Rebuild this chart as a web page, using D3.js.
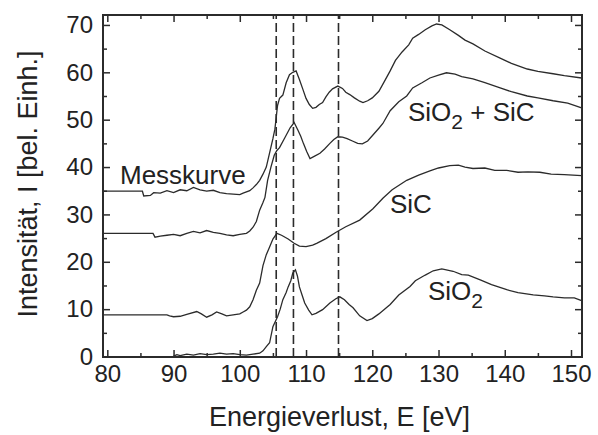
<!DOCTYPE html>
<html>
<head>
<meta charset="utf-8">
<script src="https://cdn.jsdelivr.net/npm/d3@7"></script>
<style>
  body { margin: 0; background: #fff; }
  text { font-family: "Liberation Sans", Arial, sans-serif; fill: #222; }
</style>
</head>
<body>
<div id="chart"></div>
<script>
// spectra: [energy eV, intensity]
const messkurve = [
  [79.4, 34.9], [85.3, 34.9], [85.5, 33.9], [86.5, 34.0], [87, 34.6], [88, 34.5], [89, 35.0], [90, 34.6],
  [91, 35.2], [92, 35.0], [93, 35.7], [94, 35.2], [95, 34.9], [96, 35.1], [97, 34.6], [98, 34.4],
  [99, 34.3], [100, 34.2], [100.5, 34.5], [101.5, 35.0], [102, 35.6], [102.5, 36.3], [103, 37.2],
  [103.5, 38.5], [104, 40.0], [104.5, 43.0], [105, 46.0], [105.3, 48.0], [105.7, 53.0], [106, 54.5],
  [106.5, 55.2], [107, 57.8], [107.5, 59.5], [108, 60.0], [108.5, 60.3], [109, 58.5], [109.5, 56.5],
  [110, 54.5], [110.5, 53.2], [111, 52.4], [111.5, 52.6], [112, 53.2], [112.5, 53.6], [113, 54.8],
  [113.5, 55.8], [114, 56.5], [114.8, 57.1], [115.5, 56.6], [116, 55.8], [116.6, 55.3], [117.3, 54.6],
  [118.1, 53.9], [118.6, 53.6], [119.3, 54.0], [120, 54.6], [121, 56.0], [122, 58.5], [122.7, 60.3],
  [123.5, 62.5], [124.5, 64.3], [125.5, 65.8], [126.1, 67.2], [127, 68.0], [128, 69.0], [129, 69.8],
  [129.7, 70.2], [130.5, 70.0], [131.7, 69.0], [133, 67.8], [134, 66.8], [135.2, 66.0], [137, 64.5],
  [139.3, 63.0], [141, 61.9], [143.4, 60.7], [145, 60.2], [147.3, 59.7], [149, 59.3], [151.6, 58.8]
];

const sio2sic = [
  [79.4, 26.0], [86.9, 26.0], [87.2, 25.2], [88, 25.4], [89, 25.6], [90, 25.8], [91, 25.5], [92, 26.0],
  [93, 26.4], [94, 26.1], [95, 26.6], [96, 26.2], [97, 26.0], [98, 25.7], [99, 25.5], [100, 25.8],
  [101, 26.0], [101.5, 26.5], [102, 27.3], [102.5, 28.5], [103, 30.9], [103.5, 32.5], [103.8, 33.6],
  [104.2, 37.2], [104.7, 40.0], [105.2, 42.5], [105.6, 43.5], [106, 44.1], [106.8, 46.2], [107.6, 48.3],
  [108.2, 49.4], [108.8, 47.7], [109.2, 46.5], [109.6, 45.0], [110.1, 43.3], [110.6, 41.8], [111.3, 42.3],
  [112.1, 42.9], [112.8, 43.8], [113.6, 45.0], [114.2, 45.8], [114.8, 46.4], [115.5, 46.3], [116.2, 46.0],
  [117, 45.5], [117.8, 45.0], [118.5, 44.9], [119.3, 45.5], [120, 46.6], [121, 48.2], [121.6, 49.2],
  [122.7, 51.9], [124, 53.8], [125.2, 55.0], [126.1, 56.7], [127.5, 57.8], [128.7, 58.8], [130, 59.4],
  [131.2, 59.9], [132.5, 59.6], [133.5, 59.1], [135.2, 58.6], [137, 57.8], [139.3, 56.7], [141, 55.9],
  [143.4, 55.0], [145, 54.6], [147.3, 54.0], [149.5, 53.5], [151.6, 52.5]
];

const sic = [
  [79.4, 8.8], [89, 8.8], [89.4, 8.6], [90, 8.4], [91, 8.5], [92, 8.9], [93.5, 9.5], [94.2, 9.0],
  [95, 8.3], [95.8, 8.8], [96.5, 9.4], [97.3, 9.0], [98, 8.6], [99, 8.8], [100, 9.0], [100.5, 9.4],
  [101, 9.8], [101.5, 10.5], [102, 12.0], [102.5, 14.0], [103, 15.5], [103.5, 19.2], [104, 21.5],
  [104.5, 23.1], [105, 24.8], [105.6, 26.0], [106.3, 25.6], [107.3, 24.8], [108.2, 23.9], [109, 23.3],
  [110, 23.2], [111, 23.5], [111.6, 23.9], [113, 24.9], [114.6, 26.3], [116, 27.4], [118.1, 28.8],
  [120.1, 31.2], [121.6, 33.4], [123, 35.2], [125.2, 37.2], [127, 38.3], [128.7, 39.2], [130, 39.8],
  [131.7, 40.3], [133, 40.4], [134, 40.0], [135.2, 39.7], [137, 39.8], [138.5, 39.3], [140.3, 39.3],
  [142, 38.9], [143.5, 39.0], [145.3, 38.9], [147, 38.5], [149, 38.4], [151.6, 38.2]
];

const sio2 = [
  [90, 0.1], [90.5, 0.4], [91, 0.2], [92, 0.5], [93, 0.3], [94, 0.6], [95, 0.4], [96, 0.5], [97, 0.7],
  [98, 0.5], [99, 0.6], [100, 0.4], [101, 0.3], [102, 0.5], [103, 0.7], [103.5, 1.2], [104, 2.1],
  [104.5, 2.9], [105, 6.3], [105.7, 8.4], [106.1, 10.0], [106.5, 12.0], [107, 13.5], [107.3, 14.7],
  [107.7, 16.0], [108, 17.6], [108.4, 18.3], [108.7, 17.0], [109, 14.7], [109.4, 13.0], [109.8, 11.3],
  [110.4, 9.8], [110.9, 8.8], [111.5, 9.1], [112.5, 9.9], [113.6, 11.3], [114.5, 12.2], [115.1, 12.6],
  [115.8, 12.0], [116.5, 11.0], [117.1, 10.3], [118.1, 8.6], [119.2, 7.6], [120, 8.0], [121, 9.0],
  [122.7, 11.0], [124, 13.0], [125.7, 14.8], [126.5, 16.0], [128, 17.2], [129.2, 18.1], [130.5, 18.5],
  [132.2, 18.0], [133.5, 17.3], [134.5, 17.2], [136.3, 16.2], [138, 15.2], [140.3, 14.1], [142, 13.5],
  [144.3, 13.0], [146, 12.8], [147.3, 12.6], [149, 12.4], [150.5, 12.4], [151.6, 11.8]
];

const markerLines = [105.5, 108.1, 114.9];
const xTicks = [80, 90, 100, 110, 120, 130, 140, 150];
const yTicks = [0, 10, 20, 30, 40, 50, 60, 70];
const xMinor = [85, 95, 105, 115, 125, 135, 145];
const yMinor = [5, 15, 25, 35, 45, 55, 65];

const width = 598, height = 435;
const ink = '#2b2b2b';

const svg = d3.select('#chart').append('svg')
  .attr('width', width)
  .attr('height', height);

const x = d3.scaleLinear().domain([79.35, 151.66]).range([103, 582]);
const y = d3.scaleLinear().domain([-0.1, 72.1]).range([357, 15]);

const line = d3.line()
  .x(d => x(d[0]))
  .y(d => y(d[1]));

// dashed marker lines
svg.append('g')
  .selectAll('line')
  .data(markerLines)
  .join('line')
  .attr('x1', d => x(d)).attr('x2', d => x(d))
  .attr('y1', y.range()[0]).attr('y2', y.range()[1])
  .attr('stroke', ink)
  .attr('stroke-width', 1.6)
  .attr('stroke-dasharray', '9,4');

svg.append('g')
  .selectAll('path')
  .data([messkurve, sio2sic, sic, sio2])
  .join('path')
  .attr('d', line)
  .attr('fill', 'none')
  .attr('stroke', ink)
  .attr('stroke-width', 1.3);

// axes, ticks inward on all four sides
function styleAxis(g) {
  g.select('.domain').remove();
  g.selectAll('line').attr('stroke', ink).attr('stroke-width', 1.5);
  g.selectAll('text').attr('font-size', 24).style('fill', '#222');
}

const plotBottom = y.range()[0], plotTop = y.range()[1];
const plotLeft = x.range()[0], plotRight = x.range()[1];

svg.append('g').attr('transform', `translate(0,${plotBottom})`)
  .call(d3.axisBottom(x).tickValues(xTicks).tickSize(-7).tickPadding(8).tickFormat(d3.format('d')))
  .call(styleAxis);
svg.append('g').attr('transform', `translate(0,${plotBottom})`)
  .call(d3.axisBottom(x).tickValues(xMinor).tickSize(-4).tickFormat(''))
  .call(styleAxis);
svg.append('g').attr('transform', `translate(0,${plotTop})`)
  .call(d3.axisTop(x).tickValues(xTicks).tickSize(-7).tickFormat(''))
  .call(styleAxis);
svg.append('g').attr('transform', `translate(0,${plotTop})`)
  .call(d3.axisTop(x).tickValues(xMinor).tickSize(-4).tickFormat(''))
  .call(styleAxis);

svg.append('g').attr('transform', `translate(${plotLeft},0)`)
  .call(d3.axisLeft(y).tickValues(yTicks).tickSize(-7).tickPadding(10).tickFormat(d3.format('d')))
  .call(styleAxis);
svg.append('g').attr('transform', `translate(${plotLeft},0)`)
  .call(d3.axisLeft(y).tickValues(yMinor).tickSize(-4).tickFormat(''))
  .call(styleAxis);
svg.append('g').attr('transform', `translate(${plotRight},0)`)
  .call(d3.axisRight(y).tickValues(yTicks).tickSize(-7).tickFormat(''))
  .call(styleAxis);
svg.append('g').attr('transform', `translate(${plotRight},0)`)
  .call(d3.axisRight(y).tickValues(yMinor).tickSize(-4).tickFormat(''))
  .call(styleAxis);

// frame
svg.append('rect')
  .attr('x', plotLeft).attr('y', plotTop)
  .attr('width', plotRight - plotLeft).attr('height', plotBottom - plotTop)
  .attr('fill', 'none')
  .attr('stroke', ink)
  .attr('stroke-width', 2);

// axis titles
svg.append('text')
  .attr('x', (plotLeft + plotRight) / 2 - 3)
  .attr('y', 426)
  .attr('text-anchor', 'middle')
  .attr('font-size', 27)
  .text('Energieverlust, E [eV]');

svg.append('text')
  .attr('transform', `translate(37,${(plotTop + plotBottom) / 2 - 2}) rotate(-90)`)
  .attr('text-anchor', 'middle')
  .attr('font-size', 27)
  .text('Intensität, I [bel. Einh.]');

// curve labels
const labels = svg.append('g').attr('font-size', 26);
labels.append('text').attr('x', 120).attr('y', 184).text('Messkurve');
labels.append('text').attr('x', 390).attr('y', 213).text('SiC');

const l1 = labels.append('text').attr('x', 408).attr('y', 121);
l1.append('tspan').text('SiO');
l1.append('tspan').attr('dy', 8).attr('font-size', 21).text('2');
l1.append('tspan').attr('dy', -8).text(' + SiC');

const l2 = labels.append('text').attr('x', 428).attr('y', 300);
l2.append('tspan').text('SiO');
l2.append('tspan').attr('dy', 8).attr('font-size', 21).text('2');
</script>
</body>
</html>
